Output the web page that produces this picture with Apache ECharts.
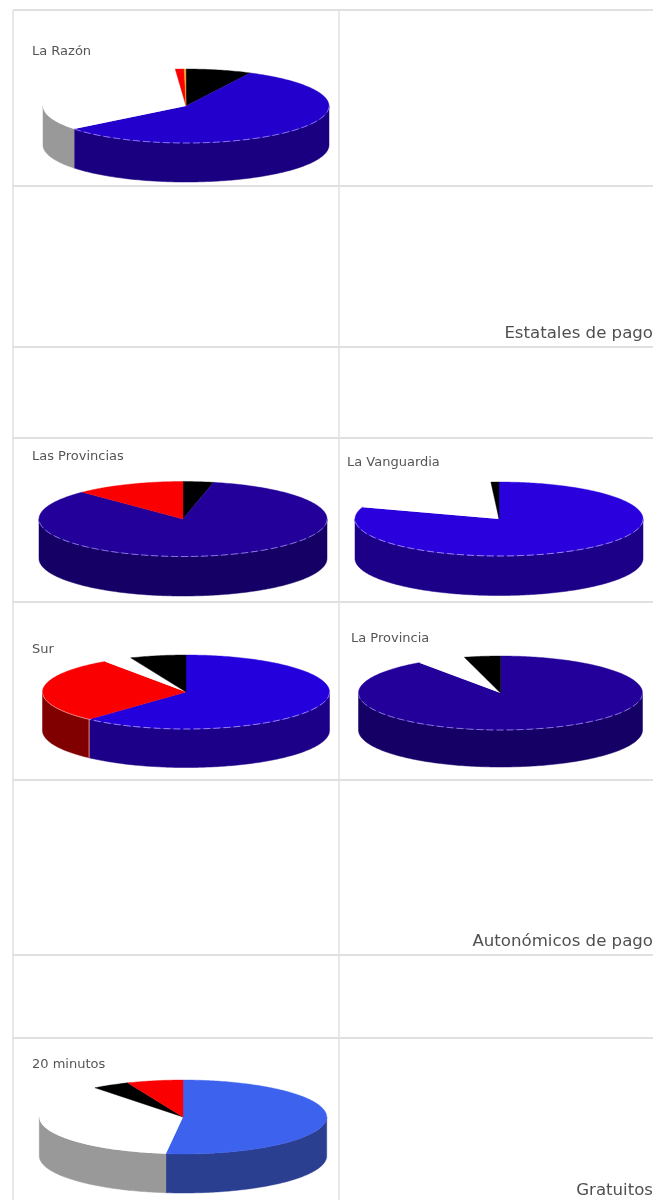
<!DOCTYPE html>
<html><head><meta charset="utf-8">
<style>html,body{margin:0;padding:0;background:#fff}#c{width:656px;height:1200px;filter:blur(0.5px)}</style>
<script src="https://cdn.jsdelivr.net/npm/echarts@6/dist/echarts.min.js"></script>
</head><body><div id="c"></div>
<script>
// ---- data (percent shares, clockwise from 12 o'clock) ----
const pieNames = ['La Razón','Las Provincias','La Vanguardia','Sur','La Provincia','20 minutos'];
const laRazonSlices = ['Negro','Azul','Blanco','Rojo','Naranja'];
const laRazonValues = [7.4,56.9,34.5,1.0,0.2];
const lasProvinciasSlices = ['Negro','Azul','Rojo'];
const lasProvinciasValues = [3.4,84.3,12.3];
const laVanguardiaSlices = ['Azul','Blanco','Negro'];
const laVanguardiaValues = [80.2,18.9,0.9];
const surSlices = ['Azul','Rojo','Blanco','Negro'];
const surValues = [61.8,28.6,3.3,6.3];
const laProvinciaSlices = ['Azul','Blanco','Negro'];
const laProvinciaValues = [90.3,5.6,4.1];
const veinteMinutosSlices = ['Azul','Blanco','Negro','Rojo'];
const veinteMinutosValues = [51.9,37.6,4.2,6.3];
const sectionLabels = ['Estatales de pago','Autonómicos de pago','Gratuitos'];

// ---- layout and styles ----
const pieLayout = [
 {cx:186,cy:106,rx:143,ry:37,d:39,lx:32,ly:45.5,blue:['#2300cc','#1a0080','#8d78ee']},
 {cx:183,cy:519,rx:144,ry:37.5,d:39.5,lx:32,ly:450,blue:['#220099','#150066','#8d78e0']},
 {cx:499,cy:519,rx:144,ry:37,d:39.5,lx:347,ly:456.5,blue:['#2a00dd','#1c0088','#9a88f0']},
 {cx:186,cy:692,rx:143.5,ry:37,d:38.5,lx:32,ly:643.5,blue:['#2400dd','#1c0088','#9a88f0']},
 {cx:500.5,cy:693,rx:142,ry:37,d:37,lx:351,ly:632.5,blue:['#220099','#150066','#8d78e0']},
 {cx:183,cy:1117,rx:143.7,ry:37,d:39,lx:32,ly:1058.5,blue:['#3c62ee','#2a3f90',null]}
];
const sliceColors = {
 Negro:['#000000','#000000',null],
 Blanco:['#ffffff','#999999',null],
 Rojo:['#fb0000','#800000','#ee8888'],
 Naranja:['#f0a030','#a06010',null]
};
const pieSlices = [laRazonSlices,lasProvinciasSlices,laVanguardiaSlices,surSlices,laProvinciaSlices,veinteMinutosSlices];
const pieValues = [laRazonValues,lasProvinciasValues,laVanguardiaValues,surValues,laProvinciaValues,veinteMinutosValues];
const hLines = [10,186,347,438,602,780,955,1038];
const vLines = [13,339];
const gridRight = 653;
const gridColor = '#e0e0e0';

function buildSeries(i){
  const L = pieLayout[i], vals = pieValues[i], names = pieSlices[i];
  const total = vals.reduce((a,b)=>a+b,0);
  const starts=[]; let acc=0; vals.forEach(v=>{starts.push(acc);acc+=v;});
  const pt=(deg,dy)=>{const r=deg*Math.PI/180;return [L.cx+L.rx*Math.sin(r),L.cy-L.ry*Math.cos(r)+(dy||0)];};
  const arc=(a,b,dy)=>{const p=[];const n=Math.max(2,Math.ceil((b-a)));for(let k=0;k<=n;k++)p.push(pt(a+(b-a)*k/n,dy));return p;};
  return {
    type:'custom', name:pieNames[i], coordinateSystem:'none', silent:true, animation:false,
    data:names.map((n,k)=>({name:n,value:[vals[k],starts[k]]})),
    renderItem(params,api){
      const n=names[params.dataIndex];
      const a0=echarts.number.linearMap(api.value(1),[0,total],[0,360]);
      const a1=a0+echarts.number.linearMap(api.value(0),[0,total],[0,360]);
      const col=n==='Azul'?L.blue:sliceColors[n];
      const ch=[];
      const s=Math.max(a0,90), e=Math.min(a1,270);
      if(s<e){
        const front=arc(s,e,0), back=arc(s,e,L.d).reverse();
        ch.push({type:'polygon',z2:1,shape:{points:front.concat(back)},style:{fill:col[1],stroke:col[1],lineWidth:0.5}});
        if(col[2]){
          ch.push({type:'polyline',z2:3,shape:{points:front},style:{fill:null,stroke:col[2],lineWidth:1,lineDash:n==='Azul'?[7,3]:null}});
        }
        if(n==='Rojo'&&s>90){
          ch.push({type:'line',z2:3,shape:{x1:pt(s)[0],y1:pt(s)[1],x2:pt(s)[0],y2:pt(s)[1]+L.d},style:{stroke:col[2],lineWidth:1}});
        }
      }
      const top=[[L.cx,L.cy]].concat(arc(a0,a1,0));
      ch.push({type:'polygon',z2:2,shape:{points:top},style:{fill:col[0],stroke:n==='Blanco'?null:col[0],lineWidth:0.4}});
      return {type:'group',children:ch};
    }
  };
}

const titles = pieNames.map((t,i)=>({text:t,left:pieLayout[i].lx,top:pieLayout[i].ly,padding:0,
  textStyle:{fontFamily:'DejaVu Sans',fontSize:13,fontWeight:'normal',color:'#555'}}));
[[sectionLabels[0],324.7],[sectionLabels[1],933.4],[sectionLabels[2],1181.7]].forEach(([t,y])=>{
  titles.push({text:t,right:3,top:y,padding:0,textStyle:{fontFamily:'DejaVu Sans',fontSize:16.6,fontWeight:'normal',color:'#505050'}});
});

const graphics = [];
hLines.forEach(y=>graphics.push({type:'line',z:-1,shape:{x1:vLines[0],y1:y,x2:gridRight,y2:y},style:{stroke:gridColor,lineWidth:2}}));
vLines.forEach(x=>graphics.push({type:'line',z:-1,shape:{x1:x,y1:hLines[0],x2:x,y2:1200},style:{stroke:gridColor,lineWidth:1.5}}));

const chart = echarts.init(document.getElementById('c'),null,{renderer:'canvas'});
chart.setOption({backgroundColor:'#fff',animation:false,title:titles,graphic:graphics,series:pieNames.map((_,i)=>buildSeries(i))});
</script></body></html>
